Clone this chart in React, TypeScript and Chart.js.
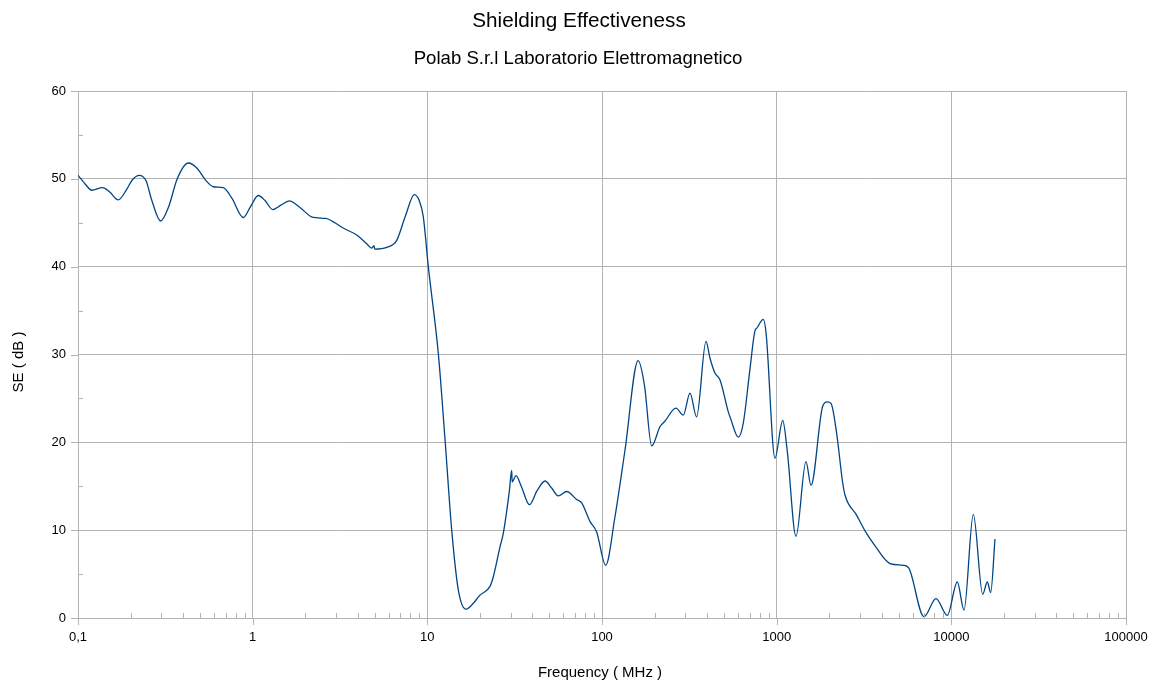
import React, { useEffect, useRef } from "react";
import { Chart, registerables } from "chart.js";
Chart.register(...registerables);

const chartTitle = "Shielding Effectiveness";
const chartSubtitle = "Polab S.r.l Laboratorio Elettromagnetico";
const xAxisTitle = "Frequency ( MHz )";
const yAxisTitle = "SE ( dB )";

const freqMHz = [
  0.1, 0.108, 0.12, 0.138, 0.152, 0.17, 0.19, 0.205, 0.224, 0.245, 0.265, 0.297, 0.33, 0.37, 0.428,
  0.48, 0.54, 0.596, 0.679, 0.76, 0.884, 0.97, 1.077, 1.18, 1.302, 1.45, 1.621, 1.85, 2.22, 2.63,
  2.95, 3.3, 3.94, 4.5, 4.8, 4.95, 5.0, 5.85, 6.68, 7.5, 8.42, 9.0, 9.48, 10.13, 11.56, 12.63,
  13.79, 15.04, 16.64, 18.0, 20.03, 22.84, 23.87, 26.06, 27.2, 29.5, 30.4, 30.6, 32.2, 34.5, 38.4,
  42.5, 47.2, 51.5, 56.2, 62.8, 71.6, 76.5, 85.3, 93.2, 105, 118.6, 135.4, 161, 175, 192.5, 215,
  229, 265, 292, 319, 348, 394, 415, 443, 474, 528, 545, 603, 644, 700, 751, 770, 838, 870, 978,
  1083, 1150, 1290, 1472, 1572, 1834, 1950, 2050, 2206, 2380, 2461, 2850, 3277, 3575, 4456, 5309, 5700, 6970,
  8170, 9484, 10820, 11820, 13360, 15120, 16070, 16800, 17780,
];
const seDb = [
  50.4, 49.6, 48.7, 49.0, 48.5, 47.6, 48.8, 49.9, 50.4, 49.8, 47.5, 45.2, 46.8, 50.0, 51.8,
  51.2, 49.8, 49.1, 49.0, 47.8, 45.6, 46.8, 48.1, 47.5, 46.5, 47.0, 47.5, 46.8, 45.6, 45.5,
  45.0, 44.4, 43.6, 42.6, 42.1, 42.4, 42.0, 42.2, 43.0, 45.8, 48.2, 47.5, 45.7, 40.0, 30.1, 20.3,
  10.0, 3.2, 1.0, 1.5, 2.6, 3.6, 4.7, 8.1, 9.6, 14.5, 16.8, 15.5, 16.2, 15.0, 12.9,
  14.5, 15.6, 14.8, 13.9, 14.4, 13.5, 13.1, 11.0, 9.8, 6.0, 11.5, 19.1, 29.3, 26.5, 19.6, 21.8,
  22.4, 23.9, 23.1, 25.6, 22.9, 31.5, 29.6, 27.9, 27.1, 23.5, 22.7, 20.6, 22.2, 28.0, 32.7, 33.0, 34.0, 32.4, 18.2,
  22.5, 19.0, 9.3, 17.8, 15.1, 24.1, 24.6, 24.4, 21.0, 15.6, 14.0, 11.8, 9.6, 8.5, 6.2, 6.0, 5.7, 0.15,
  2.2, 0.3, 4.1, 0.9, 11.8, 2.7, 4.1, 2.9, 9.0,
];
const xTickValues = [0.1, 1, 10, 100, 1000, 10000, 100000];
const xTickLabels = ["0,1", "1", "10", "100", "1000", "10000", "100000"];
const yTickValues = [0, 10, 20, 30, 40, 50, 60];

const GRID = "#b3b3b3";
const FONT = "'Liberation Sans', Arial, sans-serif";

const decorPlugin = {
  id: "decor",
  beforeDraw(chart: any) {
    const { ctx } = chart;
    ctx.save();
    ctx.fillStyle = "#ffffff";
    ctx.fillRect(0, 0, chart.width, chart.height);
    ctx.restore();
  },
  afterDraw(chart: any) {
    const { ctx, chartArea } = chart;
    const xs = chart.scales.x;
    const ys = chart.scales.y;
    ctx.save();
    ctx.strokeStyle = GRID;
    ctx.lineWidth = 1;
    ctx.beginPath();
    for (let d = -1; d < 5; d++) {
      for (let m = 2; m <= 9; m++) {
        const px = Math.round(xs.getPixelForValue(m * Math.pow(10, d))) + 0.5;
        ctx.moveTo(px, chartArea.bottom);
        ctx.lineTo(px, chartArea.bottom - 5);
      }
    }
    for (const v of xTickValues) {
      const px = Math.round(xs.getPixelForValue(v)) + 0.5;
      ctx.moveTo(px, chartArea.bottom);
      ctx.lineTo(px, chartArea.bottom + 7);
    }
    for (const v of yTickValues) {
      const py = Math.round(ys.getPixelForValue(v)) + 0.5;
      ctx.moveTo(chartArea.left - 7, py);
      ctx.lineTo(chartArea.left, py);
    }
    for (let i = 0; i < yTickValues.length - 1; i++) {
      const v = (yTickValues[i] + yTickValues[i + 1]) / 2;
      const py = Math.round(ys.getPixelForValue(v)) + 0.5;
      ctx.moveTo(chartArea.left, py);
      ctx.lineTo(chartArea.left + 5, py);
    }
    ctx.stroke();

    ctx.fillStyle = "#000000";
    ctx.textAlign = "center";
    ctx.textBaseline = "alphabetic";
    ctx.font = `20.7px ${FONT}`;
    ctx.fillText(chartTitle, 579, 27);
    ctx.font = `18.6px ${FONT}`;
    ctx.fillText(chartSubtitle, 578, 64);
    ctx.font = `15px ${FONT}`;
    ctx.fillText(xAxisTitle, 600, 677);
    ctx.save();
    ctx.translate(23, 362);
    ctx.rotate(-Math.PI / 2);
    ctx.fillText(yAxisTitle, 0, 0);
    ctx.restore();
    ctx.restore();
  },
};

export default function App() {
  const ref = useRef<HTMLCanvasElement | null>(null);
  useEffect(() => {
    if (!ref.current) return;
    const chart = new Chart(ref.current, {
      type: "line",
      data: {
        datasets: [
          {
            data: freqMHz.map((f, i) => ({ x: f, y: seDb[i] })),
            borderColor: "#004586",
            borderWidth: 1.3,
            pointRadius: 0,
            fill: false,
            cubicInterpolationMode: "monotone",
          },
        ],
      },
      options: {
        animation: false,
        responsive: false,
        events: [],
        layout: { padding: { top: 91, right: 30, bottom: 0, left: 0 } },
        plugins: { legend: { display: false }, title: { display: false }, tooltip: { enabled: false } },
        scales: {
          x: {
            type: "logarithmic",
            min: 0.1,
            max: 100000,
            afterBuildTicks: (s: any) => {
              s.ticks = xTickValues.map((v) => ({ value: v }));
            },
            afterFit: (s: any) => {
              s.height = 66;
              s.paddingLeft = 0;
              s.paddingRight = 0;
            },
            ticks: {
              autoSkip: false,
              maxRotation: 0,
              padding: 12,
              color: "#000",
              font: { family: FONT, size: 13 },
              callback: (_v: any, i: number) => xTickLabels[i],
            },
            grid: { color: GRID, drawTicks: false, lineWidth: 1 },
            border: { color: GRID },
          },
          y: {
            type: "linear",
            min: 0,
            max: 60,
            afterBuildTicks: (s: any) => {
              s.ticks = yTickValues.map((v) => ({ value: v }));
            },
            afterFit: (s: any) => {
              s.width = 78;
              s.paddingTop = 0;
              s.paddingBottom = 0;
            },
            ticks: {
              padding: 12,
              color: "#000",
              font: { family: FONT, size: 13 },
              callback: (v: any) => String(v),
            },
            grid: { color: GRID, drawTicks: false, lineWidth: 1 },
            border: { color: GRID },
          },
        },
      },
      plugins: [decorPlugin],
    } as any);
    return () => chart.destroy();
  }, []);
  return (
    <div style={{ position: "absolute", left: 0, top: 0, width: 1156, height: 684 }}>
      <canvas ref={ref} width={1156} height={684} style={{ display: "block" }} />
    </div>
  );
}
